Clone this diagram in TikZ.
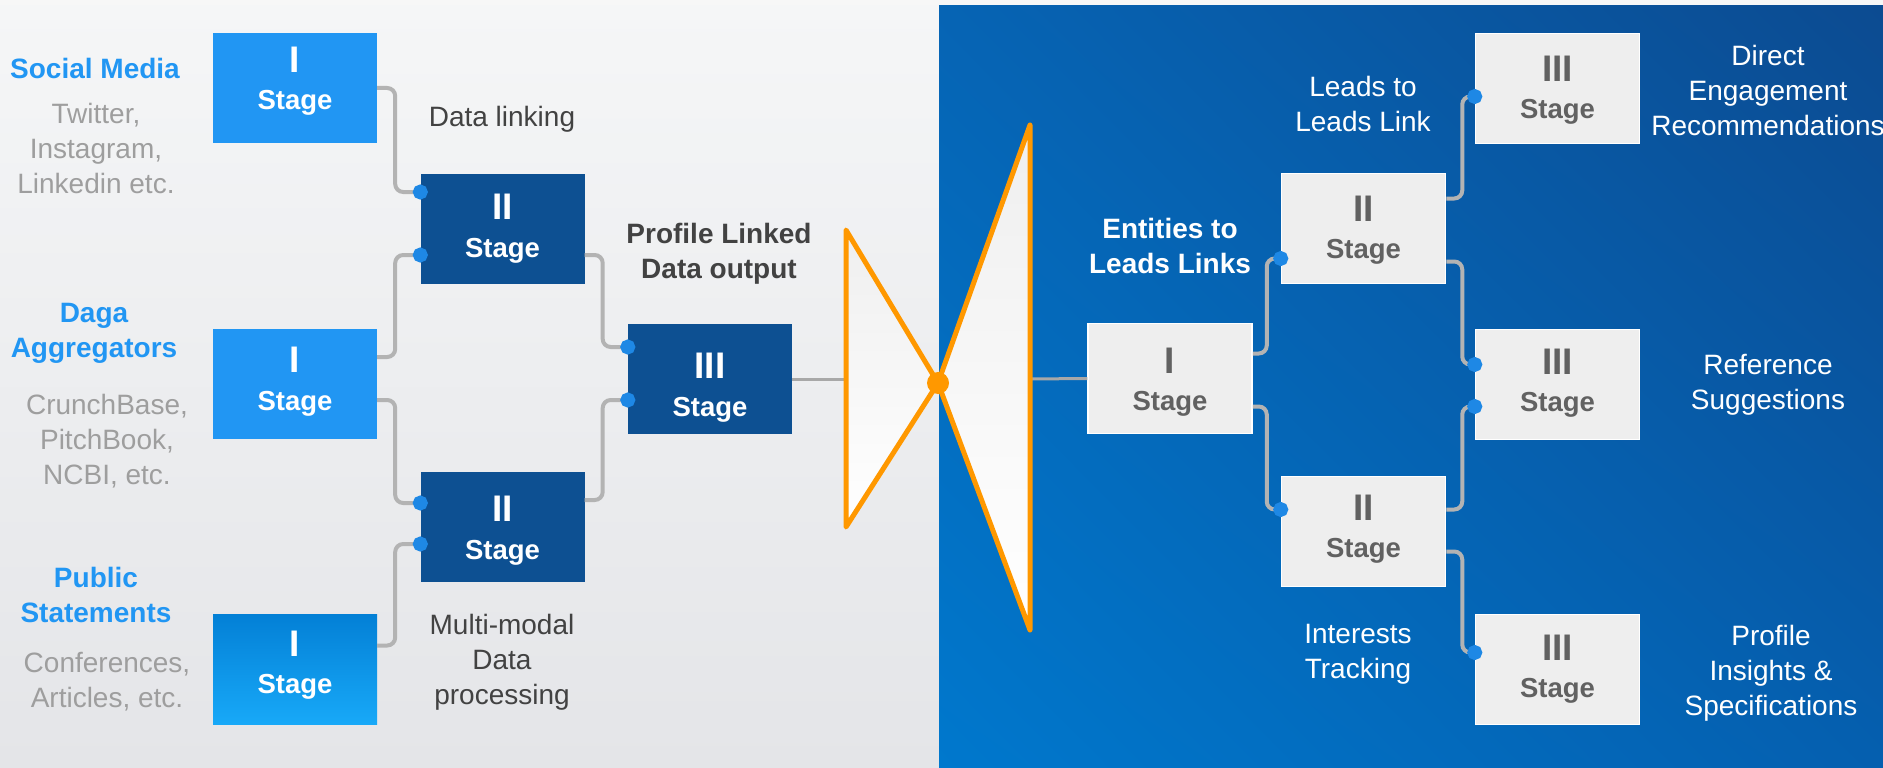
\documentclass[tikz,border=0pt]{standalone}
\usepackage{fontspec}
\setmainfont{Liberation Sans}
\usepackage{tikz}
\usetikzlibrary{arrows.meta,shadings}

\definecolor{stripgray}{HTML}{F7F7F7}
\definecolor{lighttop}{HTML}{F5F6F7}
\definecolor{lightbot}{HTML}{E4E5E8}
\definecolor{deepul}{HTML}{0664B4}
\definecolor{deepur}{HTML}{0C4B91}
\definecolor{deepll}{HTML}{0078CD}
\definecolor{deeplr}{HTML}{055FAF}
\definecolor{stageone}{HTML}{2196F3}
\definecolor{stageonetop}{HTML}{0380D6}
\definecolor{stageonebot}{HTML}{18A9F8}
\definecolor{stagedark}{HTML}{0D5092}
\definecolor{stagelight}{HTML}{EEEEEE}
\definecolor{stagetext}{HTML}{616161}
\definecolor{wiregray}{HTML}{B3B3B3}
\definecolor{feedgray}{HTML}{A8A8A8}
\definecolor{dotblue}{HTML}{1E88E5}
\definecolor{headblue}{HTML}{2196F3}
\definecolor{notegray}{HTML}{9E9E9E}
\definecolor{notedark}{HTML}{424242}
\definecolor{boworange}{HTML}{FF9800}
\definecolor{bowtop}{HTML}{EFEFEF}

\tikzset{
  stagebase/.style={minimum width=164pt, minimum height=110pt, inner sep=0pt},
  boxone/.style={stagebase, fill=stageone},
  boxgrad/.style={stagebase, top color=stageonetop, bottom color=stageonebot},
  boxdark/.style={stagebase, fill=stagedark},
  boxlight/.style={stagebase, fill=stagelight, draw=white, line width=1.5pt},
  numtext/.style={inner sep=0pt, font=\fontsize{37}{37}\selectfont\bfseries},
  wordtext/.style={inner sep=0pt, font=\fontsize{27.5}{27.5}\selectfont\bfseries},
  wire/.style={draw=wiregray, line width=4pt, rounded corners=8pt,
    -{Circle[length=15pt, width=15pt, color=dotblue]}, shorten >=-7.5pt},
  feed/.style={draw=feedgray, line width=3pt},
  bowtie/.style={draw=boworange, line width=5pt, line join=round,
    top color=bowtop, bottom color=white},
  note/.style={align=center, inner sep=0pt, font=\fontsize{28}{35}\selectfont},
  headnote/.style={align=center, inner sep=0pt, font=\fontsize{28}{35}\selectfont\bfseries},
}

\begin{document}
\begin{tikzpicture}[x=1pt, y=-1pt]
  \useasboundingbox (0,0) rectangle (1883,768);
  % backdrop
  \fill[stripgray] (0,0) rectangle (1883,6);
  \shade[top color=lighttop, bottom color=lightbot] (0,6) rectangle (939,768);
  \shade[upper left=deepul, upper right=deepur, lower left=deepll, lower right=deeplr]
    (939,6) rectangle (1883,768);
  %
  % stage boxes
  \foreach \n/\x/\y/\s/\tc/\num/\dy in {
      sm1/295/88/boxone/white/I/28, da1/295/384/boxone/white/I/24,
      ps1/295/669.5/boxgrad/white/I/26,
      lk2a/502.5/229/boxdark/white/II/22, lk2b/502.5/527/boxdark/white/II/18,
      lk3/710/379/boxdark/white/III/13,
      en1/1170/378.5/boxlight/stagetext/I/18,
      ld2a/1363.5/228.5/boxlight/stagetext/II/20, ld2b/1363.5/531.5/boxlight/stagetext/II/24,
      dr3/1557.5/88.5/boxlight/stagetext/III/20, rf3/1557.5/384.5/boxlight/stagetext/III/23,
      pr3/1557.5/669.5/boxlight/stagetext/III/22} {
    \node[\s] (\n) at (\x,\y) {};
    \node[numtext, text=\tc] (\n-num) at ([yshift=\dy*1pt]\n.center) {\num};
    \node[wordtext, text=\tc, anchor=base] (\n-word) at ([yshift=(\dy-50)*1pt]\n.center) {Stage};
  }
  %
  % links between stages
  \foreach \a/\da/\b/\db/\run in {
      sm1/0/lk2a/37/18, da1/27/lk2a/-26/18, da1/-16/lk2b/24/18, ps1/24/lk2b/-17/18,
      lk2a/-26/lk3/32/18, lk2b/27/lk3/-21/18,
      en1/25/ld2a/-30/14, en1/-28/ld2b/22/14,
      ld2a/30/dr3/-8/16, ld2a/-33/rf3/20/16, ld2b/22/rf3/-22/16, ld2b/-20/pr3/17/16} {
    \draw[wire] ([yshift=\da*1pt]\a.east) -- ++(\run,0) |- ([yshift=\db*1pt]\b.west);
  }
  %
  % bow tie
  \coordinate (apex) at (938,383);
  \coordinate (bowin) at (846,379);
  \coordinate (bowout) at (1030,379);
  \draw[feed] (lk3.east) -- (bowin);
  \draw[feed] (bowout) -- (en1.west);
  \draw[bowtie] (846,230) -- (apex) -- (846,527) -- cycle;
  \draw[bowtie] (1030,125) -- (apex) -- (1030,630) -- cycle;
  \fill[boworange] (apex) circle (11pt);
  %
  % sources
  \node[headnote, text=headblue] (social) at (95,68) {Social Media};
  \node[note, text=notegray] (social-ex) at (96,148) {Twitter,\\Instagram,\\Linkedin etc.};
  \node[headnote, text=headblue] (aggr) at (94,333.5) {Daga\\Aggregators};
  \node[note, text=notegray] (aggr-ex) at (107,441.5) {CrunchBase,\\PitchBook,\\NCBI, etc.};
  \node[headnote, text=headblue] (public) at (96,595) {Public\\Statements};
  \node[note, text=notegray] (public-ex) at (107,681.5) {Conferences,\\Articles, etc.};
  %
  % step notes
  \node[note, text=notedark] (linking) at (502,119) {Data linking};
  \node[note, text=notedark] (multimodal) at (502,662.5) {Multi-modal\\Data\\processing};
  \node[headnote, text=notedark] (output) at (719,254) {Profile Linked\\Data output};
  \node[headnote, text=white] (entities) at (1170,246) {Entities to\\Leads Links};
  \node[note, text=white] (leads) at (1363,103.5) {Leads to\\Leads Link};
  \node[note, text=white] (interests) at (1358,654.5) {Interests\\Tracking};
  %
  % results
  \node[note, text=white] (direct) at (1768,90) {Direct\\Engagement\\Recommendations};
  \node[note, text=white] (reference) at (1768,384.5) {Reference\\Suggestions};
  \node[note, text=white] (insights) at (1771,673) {Profile\\Insights \&\\Specifications};
\end{tikzpicture}
\end{document}
